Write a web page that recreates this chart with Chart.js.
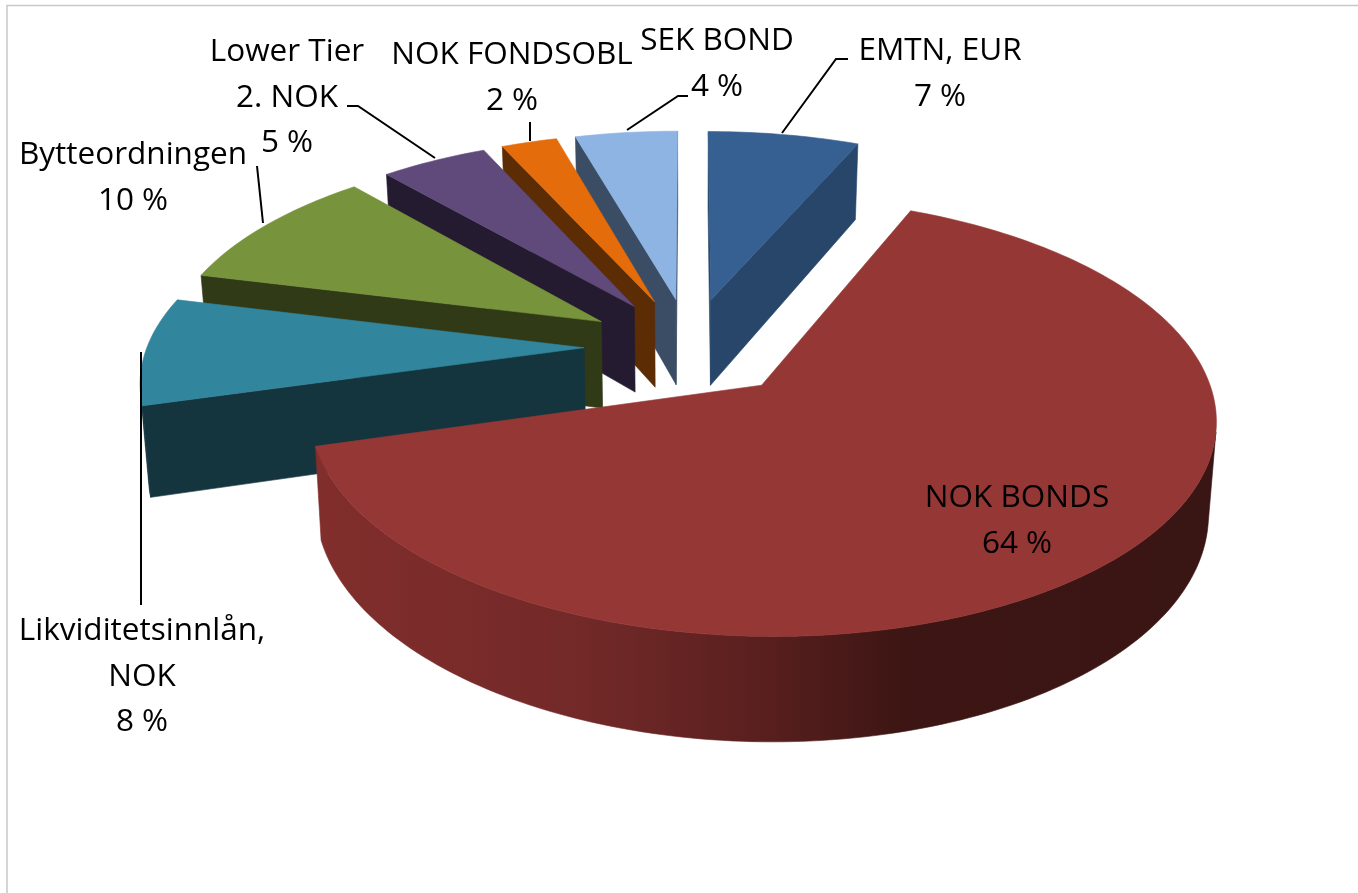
<!DOCTYPE html>
<html>
<head>
<meta charset="utf-8">
<title>Pie</title>
<script src="https://cdn.jsdelivr.net/npm/chart.js@4/dist/chart.umd.min.js"></script>
<style>
  html, body { margin: 0; padding: 0; background: #fff; }
  #wrap { width: 1358px; height: 893px; }
</style>
</head>
<body>
<div id="wrap"><canvas id="chart" width="1358" height="893"></canvas></div>
<script>
// values, shares in percent
const categories = ['EMTN, EUR', 'NOK BONDS', 'Likviditetsinnlån, NOK', 'Bytteordningen', 'Lower Tier 2. NOK', 'NOK FONDSOBL', 'SEK BOND'];
const values = [6.5, 64.1, 8.3, 9.7, 4.6, 2.4, 4.4];
const labelLines = [['EMTN, EUR'], ['NOK BONDS'], ['Likviditetsinnlån,', 'NOK'], ['Bytteordningen'], ['Lower Tier', '2. NOK'], ['NOK FONDSOBL'], ['SEK BOND']];

const topColors = ['#366092', '#953735', '#31859c', '#77933c', '#604a7b', '#e46c0a', '#8eb4e3'];
const wallColors = ['#274669', '#7a2b29', '#14343e', '#313a17', '#241b30', '#5c2c05', '#3a4d65'];

// where each label sits: centre x, first baseline
const labelPos = [[940, 60], [1017, 507], [142, 640], [133, 164], [287, 61], [512, 64], [717, 50]];
// leader lines, in the same order
const leaders = [
    [[782, 133], [836, 59], [848, 59]],
    [],
    [[141, 352], [141, 605]],
    [[263, 223], [257, 166]],
    [[435, 158], [358, 106], [347, 106]],
    [[530, 141], [530, 122]],
    [[627, 130], [678, 96], [688, 96]]
];

// camera: how the flat pie gets laid down in perspective
const view = { sx: 1.412, sy: 0.66, k: 0.14, depth: 88, shrink: 0.985 };

function project(el, X, Y, low) {
    const p = 1 / (1 - view.k * Y);
    let x = view.sx * el.outerRadius * X * p;
    let y = view.sy * el.outerRadius * Y * p;
    if (low) {
        x = x * view.shrink;
        y = y + view.depth * p;
    }
    return [el.x + x, el.y + y];
}

function modelPoint(el, theta, r) {
    const mid = (el.startAngle + el.endAngle) / 2 + Math.PI / 2;
    const e = el.options.offset / el.outerRadius;
    return [e * Math.sin(mid) + r * Math.sin(theta), -e * Math.cos(mid) - r * Math.cos(theta)];
}

function area(pts) {
    let s = 0;
    for (let i = 0; i < pts.length; i++) {
        const a = pts[i], b = pts[(i + 1) % pts.length];
        s += a[0] * b[1] - b[0] * a[1];
    }
    return s;
}

function fillPoly(ctx, pts, color) {
    ctx.beginPath();
    pts.forEach((p, i) => i ? ctx.lineTo(p[0], p[1]) : ctx.moveTo(p[0], p[1]));
    ctx.closePath();
    ctx.fillStyle = color;
    ctx.strokeStyle = color;
    ctx.lineWidth = 0.6;
    ctx.fill();
    ctx.stroke();
}

function drawSlice(ctx, el, i) {
    const start = el.startAngle + Math.PI / 2;
    const end = el.endAngle + Math.PI / 2;
    const steps = Math.max(6, Math.ceil((end - start) / 0.02));
    const apex = modelPoint(el, 0, 0);

    const edge = (theta) => {
        const m = modelPoint(el, theta, 1);
        return [project(el, apex[0], apex[1], false), project(el, m[0], m[1], false),
                project(el, m[0], m[1], true), project(el, apex[0], apex[1], true)];
    };
    const startWall = edge(start);
    const endWall = edge(end);
    if (area(startWall) < 0) fillPoly(ctx, startWall, wallColors[i]);
    if (area(endWall) > 0) fillPoly(ctx, endWall, wallColors[i]);

    // outer wall as one shape, the big slice gets the dark fade to the right
    const rim = [];
    for (let s = 0; s <= steps; s++) rim.push(modelPoint(el, start + (end - start) * s / steps, 1));
    let wall = wallColors[i];
    if (i === 1) {
        const xs = rim.map(m => project(el, m[0], m[1], false)[0]);
        const g = ctx.createLinearGradient(Math.min(...xs), 0, Math.max(...xs), 0);
        g.addColorStop(0, '#812e2c');
        g.addColorStop(0.3, '#722928');
        g.addColorStop(0.5, '#581f1e');
        g.addColorStop(0.65, '#3d1614');
        g.addColorStop(1, '#391513');
        wall = g;
    }
    const upper = [], lower = [];
    for (let s = 0; s < steps; s++) {
        const a = rim[s], b = rim[s + 1];
        const quad = [project(el, a[0], a[1], false), project(el, b[0], b[1], false),
                      project(el, b[0], b[1], true), project(el, a[0], a[1], true)];
        if (area(quad) < 0) {
            if (!upper.length) { upper.push(quad[0]); lower.push(quad[3]); }
            upper.push(quad[1]);
            lower.push(quad[2]);
        }
    }
    if (upper.length) fillPoly(ctx, upper.concat(lower.reverse()), wall);

    const face = [project(el, apex[0], apex[1], false)];
    rim.forEach(m => face.push(project(el, m[0], m[1], false)));
    fillPoly(ctx, face, topColors[i]);
}

const pie3d = {
    id: 'pie3d',
    beforeDraw(chart) {
        // thin frame of the original picture
        const ctx = chart.ctx;
        ctx.save();
        ctx.strokeStyle = '#c8c8c8';
        ctx.lineWidth = 1.5;
        ctx.beginPath();
        ctx.moveTo(7, 893);
        ctx.lineTo(7, 5.5);
        ctx.lineTo(1358, 5.5);
        ctx.stroke();
        ctx.restore();
    },
    beforeDatasetsDraw(chart) {
        const ctx = chart.ctx;
        const arcs = chart.getDatasetMeta(0).data;
        const order = arcs.map((el, i) => i).sort((a, b) => {
            const ma = (arcs[a].startAngle + arcs[a].endAngle) / 2 + Math.PI / 2;
            const mb = (arcs[b].startAngle + arcs[b].endAngle) / 2 + Math.PI / 2;
            return -Math.cos(ma) + Math.cos(mb);
        });
        ctx.save();
        order.forEach(i => drawSlice(ctx, arcs[i], i));
        ctx.restore();
        return false;
    },
    afterDraw(chart) {
        const ctx = chart.ctx;
        ctx.save();
        ctx.strokeStyle = '#000';
        ctx.lineWidth = 2;
        leaders.forEach(line => {
            ctx.beginPath();
            line.forEach((p, i) => i ? ctx.lineTo(p[0], p[1]) : ctx.moveTo(p[0], p[1]));
            ctx.stroke();
        });
        ctx.fillStyle = '#000';
        ctx.font = '31.5px "Open Sans"';
        ctx.textAlign = 'center';
        ctx.textBaseline = 'alphabetic';
        labelLines.forEach((lines, i) => {
            const all = lines.concat(Math.round(values[i]) + ' %');
            all.forEach((t, n) => ctx.fillText(t, labelPos[i][0], labelPos[i][1] + n * 45.5));
        });
        ctx.restore();
    }
};

new Chart(document.getElementById('chart'), {
    type: 'pie',
    data: {
        labels: categories,
        datasets: [{ data: values, backgroundColor: topColors, offset: 75, borderWidth: 0 }]
    },
    options: {
        responsive: false,
        animation: false,
        layout: { padding: { left: 22, right: 0, top: 0, bottom: 199 } },
        plugins: { legend: { display: false }, tooltip: { enabled: false } }
    },
    plugins: [pie3d]
});
</script>
</body>
</html>
